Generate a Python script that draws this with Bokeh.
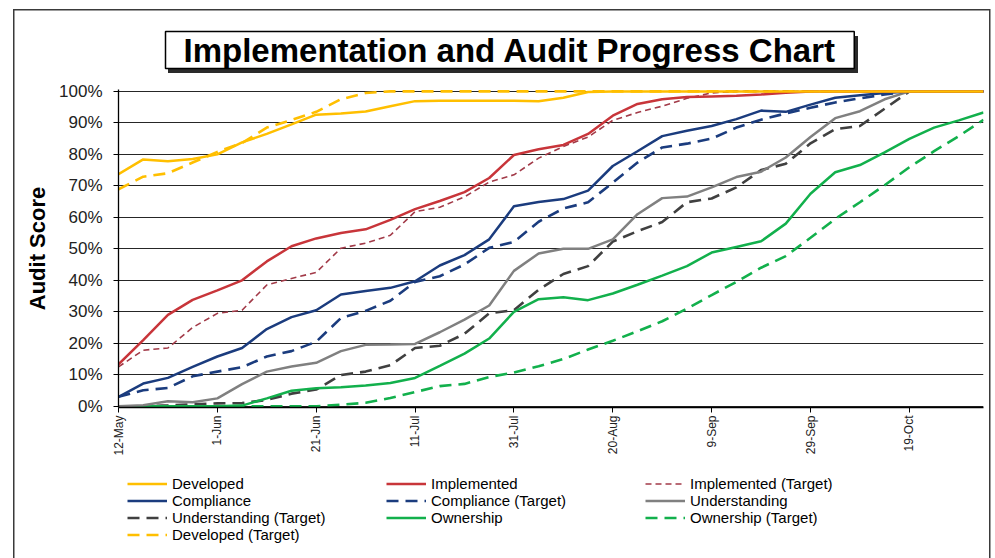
import math
from bokeh.plotting import figure
from bokeh.layouts import column
from bokeh.models import (Range1d, FixedTicker, PrintfTickFormatter, Legend, LegendItem)
from bokeh.embed import file_html
from bokeh.resources import INLINE

# ---------------- data ----------------
days = list(range(0, 180, 5))  # days since 12-May
tick_days = [0, 20, 40, 60, 80, 100, 120, 140, 160]
tick_labels = ["12-May", "1-Jun", "21-Jun", "11-Jul", "31-Jul", "20-Aug", "9-Sep", "29-Sep", "19-Oct"]
y_ticks = [0, 10, 20, 30, 40, 50, 60, 70, 80, 90, 100]

developed = [73.7, 78.4, 77.8, 78.5, 80.0, 83.8, 86.5, 89.5, 92.6, 93.0, 93.6, 95.3, 96.9, 97.0,
             97.0, 97.0, 97.0, 96.9, 98.0, 99.8, 100] + [100] * 15
developed_target = [68.9, 72.9, 74.0, 77.4, 80.8, 83.6, 88.5, 90.9, 93.5, 97.5, 99.5, 100] + [100] * 24
implemented = [13.3, 21.0, 29.0, 33.8, 36.8, 40.0, 46.0, 50.8, 53.3, 55.0, 56.2, 59.2, 62.6, 65.2,
               68.0, 72.5, 79.8, 81.6, 83.0, 86.5, 92.3, 96.0, 97.5, 98.2, 98.4, 98.6, 99.0, 99.6,
               100] + [100] * 7
implemented_target = [12.5, 17.8, 18.5, 25.0, 29.5, 30.5, 38.5, 40.6, 42.5, 50.2, 51.8, 54.3, 61.8,
                      63.2, 66.5, 71.2, 73.5, 78.8, 82.5, 85.5, 90.8, 93.3, 95.3, 97.8, 99.5,
                      100] + [100] * 10
compliance = [3.0, 7.2, 9.0, 12.5, 15.8, 18.5, 24.5, 28.3, 30.5, 35.5, 36.6, 37.6, 39.7, 44.7, 48.0,
              53.0, 63.5, 64.9, 65.8, 68.5, 76.3, 81.0, 85.8, 87.5, 89.0, 91.2, 93.9, 93.5, 95.8,
              98.0, 98.8, 99.5, 100] + [100] * 3
compliance_target = [3.0, 5.1, 5.8, 9.5, 11.0, 12.4, 15.8, 17.5, 20.5, 28.0, 30.3, 33.5, 39.5, 41.3,
                     45.0, 50.3, 52.2, 58.6, 62.8, 64.8, 71.0, 77.4, 82.2, 83.4, 85.0, 88.5, 91.0,
                     93.0, 94.8, 96.5, 97.8, 99.0, 100] + [100] * 3
understanding = [0, 0.3, 1.6, 1.3, 2.5, 7.0, 11.0, 12.6, 13.8, 17.5, 19.5, 19.6, 19.8, 23.5, 27.5,
                 32.0, 43.0, 48.5, 50.0, 50.0, 53.0, 61.0, 66.1, 66.6, 69.5, 72.8, 74.5, 79.0, 85.5,
                 91.5, 93.7, 97.5, 100] + [100] * 3
understanding_target = [0, 0, 0.3, 0.6, 0.9, 1.0, 2.0, 4.0, 5.3, 9.9, 11.0, 13.0, 18.5, 19.2, 23.0,
                        29.5, 30.5, 37.0, 42.0, 44.5, 52.3, 55.6, 58.5, 64.8, 66.0, 69.5, 75.0,
                        77.0, 83.5, 88.0, 89.0, 94.5, 100] + [100] * 3
ownership = [0, 0, 0, 0, 0, 0.2, 2.5, 4.9, 5.7, 6.0, 6.6, 7.4, 9.0, 12.8, 16.7, 21.5, 30.0, 34.0,
             34.6, 33.7, 35.8, 38.6, 41.5, 44.5, 48.8, 50.6, 52.4, 58.0, 67.5, 74.3, 76.6, 80.6,
             84.9, 88.5, 90.8, 93.3]
ownership_target = [0] * 9 + [0.5, 1.1, 2.6, 4.5, 6.4, 7.1, 9.3, 10.7, 12.7, 15.0, 18.0, 20.8, 23.8,
                              27.0, 31.0, 35.3, 39.5, 44.0, 47.7, 53.5, 59.5, 64.8, 70.2, 75.9,
                              81.0, 85.8, 91.0]

FONT = "Liberation Sans"

YEL = "#FFBF00"
RED = "#C8353A"
RED_T = "#A23A48"
NAVY = "#1B3C7E"
GRAY = "#808080"
DGRAY = "#404040"
GREEN = "#12B04C"
DASH = "12 7"

# (label, values, color, width, dash) in legend (row-major) order
series = [
    ("Developed", developed, YEL, 2.5, "solid"),
    ("Implemented", implemented, RED, 2.5, "solid"),
    ("Implemented (Target)", implemented_target, RED_T, 1.6, "6 4"),
    ("Compliance", compliance, NAVY, 2.5, "solid"),
    ("Compliance (Target)", compliance_target, NAVY, 2.6, DASH),
    ("Understanding", understanding, GRAY, 2.5, "solid"),
    ("Understanding (Target)", understanding_target, DGRAY, 2.6, DASH),
    ("Ownership", ownership, GREEN, 2.5, "solid"),
    ("Ownership (Target)", ownership_target, GREEN, 2.6, DASH),
    ("Developed (Target)", developed_target, YEL, 2.6, DASH),
]

# ---------------- main chart ----------------
p = figure(frame_width=865, frame_height=318, output_backend="svg", toolbar_location=None,
           x_range=Range1d(0, 175), y_range=Range1d(-0.4, 100.6),
           min_border_left=118, min_border_right=12, min_border_top=89, min_border_bottom=63)
p.outline_line_color = None
p.background_fill_alpha = 0
p.border_fill_alpha = 0
p.xgrid.visible = False
p.ygrid.ticker = FixedTicker(ticks=y_ticks)
p.ygrid.grid_line_color = "#262626"
p.ygrid.grid_line_width = 1.2

p.title.text = "Implementation and Audit Progress Chart"
p.title.align = "left"
p.title.offset = 47
p.title.standoff = 42
p.title.text_font = FONT
p.title.text_font_size = "33px"
p.title.text_font_style = "bold"
p.title.text_color = "black"
p.title.background_fill_color = "white"
p.title.border_line_color = "black"
p.title.border_line_width = 1.5
p.title.padding = dict(left=18, right=18, top=0, bottom=0)

xa = p.xaxis[0]
xa.ticker = FixedTicker(ticks=tick_days)
xa.major_label_overrides = {d: l for d, l in zip(tick_days, tick_labels)}
xa.major_label_orientation = math.pi / 2
xa.major_label_text_font = FONT
xa.major_label_text_font_size = "12px"
xa.major_label_text_color = "#222222"
xa.major_label_standoff = 3
xa.major_tick_out = 5
xa.major_tick_in = 0
xa.minor_tick_line_color = None
xa.axis_line_color = "black"
xa.axis_line_width = 1.3
xa.major_tick_line_color = "black"

ya = p.yaxis[0]
ya.ticker = FixedTicker(ticks=y_ticks)
ya.formatter = PrintfTickFormatter(format="%d%%")
ya.major_label_text_font = FONT
ya.major_label_text_font_size = "17px"
ya.major_label_text_color = "#222222"
ya.major_label_standoff = 11
ya.major_tick_out = 5
ya.major_tick_in = 0
ya.minor_tick_line_color = None
ya.axis_line_color = "black"
ya.axis_line_width = 1.3
ya.major_tick_line_color = "black"
ya.axis_label = "Audit Score"
ya.axis_label_text_font = FONT
ya.axis_label_text_font_size = "22px"
ya.axis_label_text_font_style = "bold"
ya.axis_label_text_color = "black"
ya.axis_label_standoff = 6

# draw targets first, actuals on top
for label, vals, color, w, dash in series[::-1]:
    if dash != "solid":
        p.line(days, vals, line_color=color, line_width=w, line_dash=dash)
for label, vals, color, w, dash in series[::-1]:
    if dash == "solid":
        p.line(days, vals, line_color=color, line_width=w)

# ---------------- legend strip below the chart ----------------
# the strip's ranges lie away from the data, so its series only feed the legend keys
pl = figure(width=995, height=88, output_backend="svg", toolbar_location=None,
            x_range=Range1d(-2, -1), y_range=Range1d(-2, -1), x_axis_type=None,
            y_axis_type=None, min_border=0)
pl.outline_line_color = None
pl.background_fill_alpha = 0
pl.border_fill_alpha = 0
pl.xgrid.visible = False
pl.ygrid.visible = False

items = []
for label, vals, color, w, dash in series:
    r = pl.line(days, vals, line_color=color, line_width=w, line_dash=dash)
    items.append(LegendItem(label=label, renderers=[r]))

legend = Legend(items=items, orientation="horizontal", ncols=3, location=(9, 15),
                glyph_width=40, glyph_height=15, label_standoff=5, label_height=15,
                label_width=214, spacing=0, padding=0, margin=0,
                label_text_font=FONT, label_text_font_size="15px", label_text_color="black",
                background_fill_alpha=0, border_line_color=None)
pl.add_layout(legend)

# outer chart border (left, top, right) and the title box shadow, painted behind the canvases
frame_css = {
    "background-color": "white",
    "background-image": ("linear-gradient(#3a3a3a,#3a3a3a), linear-gradient(#3a3a3a,#3a3a3a), "
                         "linear-gradient(#3a3a3a,#3a3a3a), linear-gradient(#2a2a2a,#2a2a2a)"),
    "background-position": "13px 9px, 13px 9px, 989px 9px, 168px 36px",
    "background-size": "1.5px 700px, 977px 1.5px, 1.5px 700px, 690px 37px",
    "background-repeat": "no-repeat",
}
layout = column(p, pl, styles=frame_css)
open("out.html", "w").write(file_html(layout, INLINE))
